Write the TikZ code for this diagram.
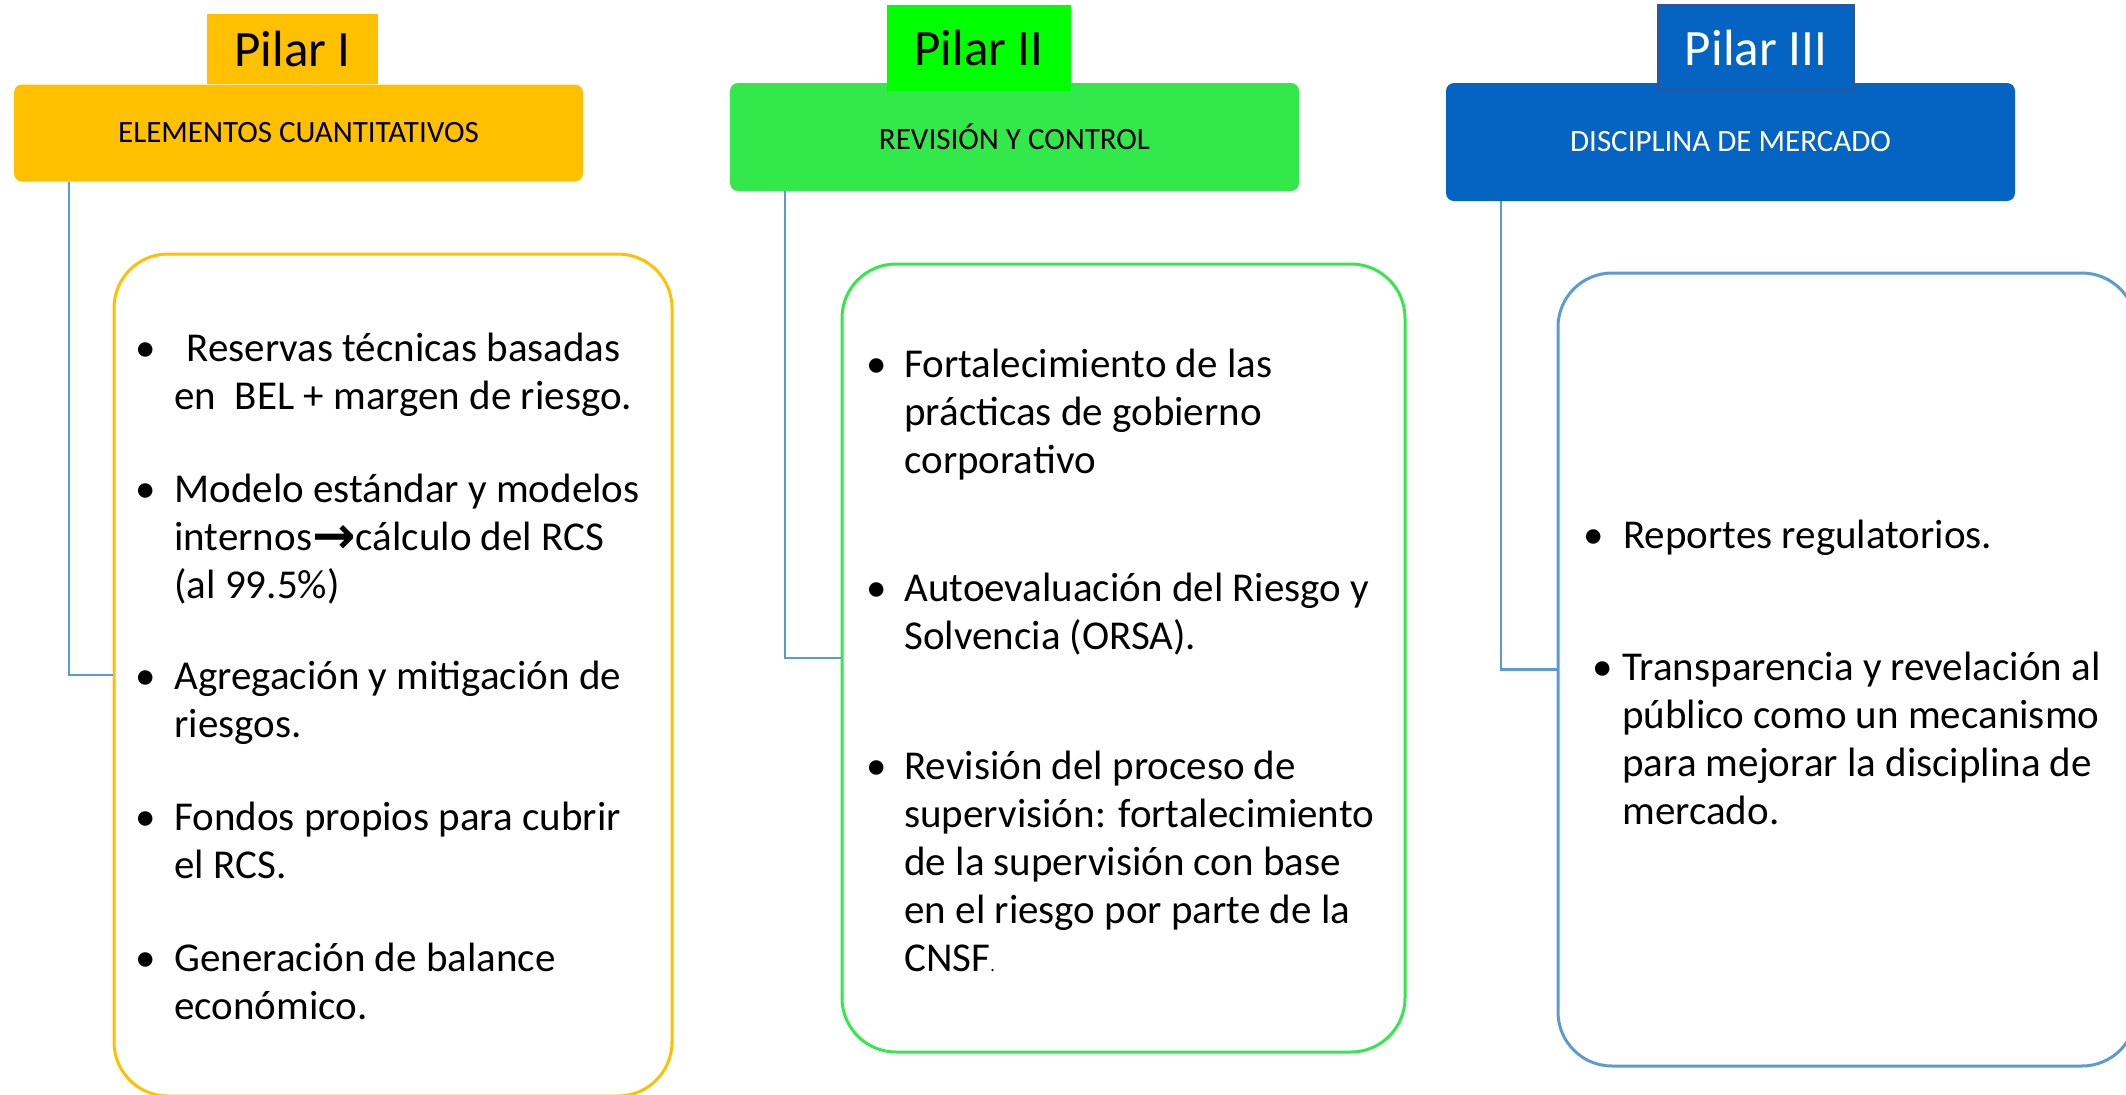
\documentclass[tikz,border=0pt]{standalone}
\usepackage{fontspec}
\setmainfont{Carlito}
\newfontfamily\flechas{DejaVu Sans}
\definecolor{naranja}{HTML}{FFC000}
\definecolor{verde}{HTML}{00FF00}
\definecolor{verdeclaro}{HTML}{33E84B}
\definecolor{azul}{HTML}{0563C1}
\definecolor{azulborde}{HTML}{2F5597}
\definecolor{azulclaro}{HTML}{5B9BD5}
\newcommand{\renglones}[1]{\begin{tabular}[t]{@{}l@{}}#1\end{tabular}}
\begin{document}
\begin{tikzpicture}[x=0.5pt,y=-0.5pt]
	\tikzstyle{conector}=[-,azulclaro,line width=1.1pt]
	\tikzset{pestana/.style={rectangle,inner sep=0,font=\fontsize{25.5}{30}\selectfont},
	cabecera/.style={rectangle,rounded corners=4pt,inner sep=0,minimum width=284.5pt,font=\fontsize{15.5}{18}\selectfont},
	caja/.style={rectangle,rounded corners=27pt,line width=1.5pt,fill=white},
	vineta/.style={anchor=base,inner sep=0,font=\fontsize{20.5}{24}\selectfont},
	texto/.style={anchor=base west,inner sep=0,font=\fontsize{20.5}{24}\selectfont}}
	\useasboundingbox (0,0) rectangle (2126,1094);
	\clip (0,0) rectangle (2126,1094);
	% Pilar I
	\node[cabecera,fill=naranja,minimum height=48.5pt] (cab1) at (298.5,133) {ELEMENTOS CUANTITATIVOS};
	\node[pestana,fill=naranja,minimum width=85.5pt,minimum height=35pt] (pil1) at (292.5,49) {\raisebox{-2pt}{Pilar I}};
	\node[caja,draw=naranja,minimum width=279pt,minimum height=421pt] (caj1) at (393,675) {};
	% Pilar II
	\node[cabecera,fill=verdeclaro,minimum height=54pt] (cab2) at (1014.5,137) {REVISIÓN Y CONTROL};
	\node[pestana,fill=verde,minimum width=92pt,minimum height=43pt] (pil2) at (979,48) {Pilar II};
	\node[caja,draw=verdeclaro,minimum width=281.5pt,minimum height=394pt] (caj2) at (1123.5,658) {};
	% Pilar III
	\node[cabecera,fill=azul,text=white,minimum height=59pt] (cab3) at (1730.5,142) {DISCIPLINA DE MERCADO};
	\node[pestana,fill=azul,draw=azulborde,line width=0.6pt,text=white,minimum width=98pt,minimum height=42.5pt] (pil3) at (1756,47.5) {Pilar III};
	\node[caja,draw=azulclaro,minimum width=289pt,minimum height=396.5pt] (caj3) at (1847,669.5) {};
	\draw[conector] ([xshift=27.5pt]cab1.south west) |- (caj1.west);
	\draw[conector] ([xshift=27.5pt]cab2.south west) |- (caj2.west);
	\draw[conector] ([xshift=27.5pt]cab3.south west) |- (caj3.west);
	% vinetas
	\node[vineta] (v11) at (146,361) {•};
	\node[vineta] (v12) at (146,502) {•};
	\node[vineta] (v13) at (146,689) {•};
	\node[vineta] (v14) at (146,830) {•};
	\node[vineta] (v15) at (146,971) {•};
	\node[vineta] (v21) at (877,377) {•};
	\node[vineta] (v22) at (877,601) {•};
	\node[vineta] (v23) at (877,779) {•};
	\node[vineta] (v31) at (1594,548) {•};
	\node[vineta] (v32) at (1603,680) {•};
	\node[texto] (t11) at (174,361) {\renglones{\hspace*{0.3em}Reservas técnicas basadas\\en~ BEL + margen de riesgo.}};
	\node[texto] (t12) at (174,502) {\renglones{Modelo estándar y modelos\\internos{\flechas\bfseries\fontsize{26}{24}\selectfont\raisebox{-1.5pt}{→}}cálculo del RCS\\(al 99.5\%)}};
	\node[texto] (t13) at (174,689) {\renglones{Agregación y mitigación de\\riesgos.}};
	\node[texto] (t14) at (174,830) {\renglones{Fondos propios para cubrir\\el RCS.}};
	\node[texto] (t15) at (174,971) {\renglones{Generación de balance\\económico.}};
	\node[texto] (t21) at (904,377) {\renglones{Fortalecimiento de las\\prácticas de gobierno\\corporativo}};
	\node[texto] (t22) at (904,601) {\renglones{Autoevaluación del Riesgo y\\Solvencia (ORSA).}};
	\node[texto] (t23) at (904,779) {\renglones{Revisión del proceso de\\supervisión: fortalecimiento\\de la supervisión con base\\en el riesgo por parte de la\\CNSF{\small .}}};
	\node[texto] (t31) at (1623,548) {Reportes regulatorios.};
	\node[texto] (t32) at (1622,680) {\renglones{Transparencia y revelación al\\público como un mecanismo\\para mejorar la disciplina de\\mercado.}};
\end{tikzpicture}
\end{document}
